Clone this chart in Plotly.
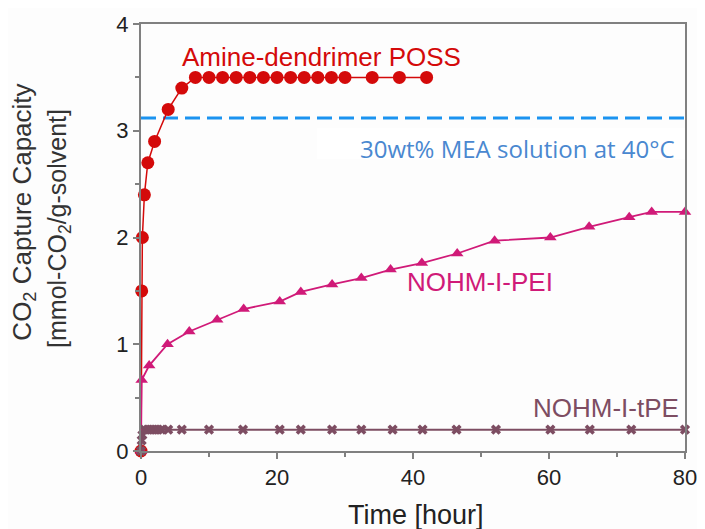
import plotly.graph_objects as go

# --- data ---
poss_time = [0, 0.1, 0.2, 0.5, 1, 2, 4, 6, 8, 10, 12, 14, 16, 18, 20, 22, 24, 26, 28, 30, 34, 38, 42]
poss_cap = [0, 1.5, 2.0, 2.4, 2.7, 2.9, 3.2, 3.4, 3.5, 3.5, 3.5, 3.5, 3.5, 3.5, 3.5, 3.5, 3.5, 3.5, 3.5, 3.5, 3.5, 3.5, 3.5]

pei_time = [0, 0.1, 1.2, 3.9, 7.1, 11.2, 15.1, 20.4, 23.5, 28.1, 32.4, 36.7, 41.3, 46.5, 52.0, 60.2, 65.9, 71.8, 75.1, 80]
pei_cap = [0, 0.665, 0.80, 1.00, 1.12, 1.23, 1.33, 1.40, 1.49, 1.56, 1.62, 1.70, 1.76, 1.85, 1.97, 2.00, 2.10, 2.19, 2.24, 2.24]

tpe_time = [0, 0.1, 0.2, 0.5, 1, 1.5, 2, 2.5, 3, 4, 6, 10, 15, 20.4, 23.5, 28.1, 32.4, 37, 41.4, 46.4, 52.2, 60.2, 66, 72.1, 80]
tpe_cap = [0, 0.1, 0.15, 0.2, 0.2, 0.2, 0.2, 0.2, 0.2, 0.2, 0.2, 0.2, 0.2, 0.2, 0.2, 0.2, 0.2, 0.2, 0.2, 0.2, 0.2, 0.2, 0.2, 0.2, 0.2]

mea_time = [0, 80]
mea_cap = [3.12, 3.12]

x_ticks = [0, 20, 40, 60, 80]
y_ticks = [0, 1, 2, 3, 4]

RED = "#d40a0a"
MAG = "#d01a78"
MAUVE = "#7d4d62"
BLUE = "#1b93f0"
FONT = "Liberation Sans, Arial, sans-serif"

fig = go.Figure()
fig.add_trace(go.Scatter(x=mea_time, y=mea_cap, mode="lines",
                         line=dict(color=BLUE, width=3, dash="15px,7px"),
                         cliponaxis=False, showlegend=False))
fig.add_trace(go.Scatter(x=poss_time, y=poss_cap, mode="lines+markers",
                         line=dict(color=RED, width=1.5),
                         marker=dict(symbol="circle", size=13, color=RED),
                         cliponaxis=False, showlegend=False))
fig.add_trace(go.Scatter(x=pei_time, y=pei_cap, mode="lines+markers",
                         line=dict(color=MAG, width=1.8),
                         marker=dict(symbol="triangle-up", size=11, color=MAG),
                         cliponaxis=False, showlegend=False))
fig.add_trace(go.Scatter(x=tpe_time, y=tpe_cap, mode="lines+markers",
                         line=dict(color=MAUVE, width=2),
                         marker=dict(symbol="x", size=9, color=MAUVE),
                         cliponaxis=False, showlegend=False))

axis_common = dict(showgrid=False, zeroline=False, showline=True, linecolor="#808080",
                   linewidth=2, mirror=True, ticks="outside", ticklen=6, tickwidth=1.5,
                   tickcolor="#808080", automargin=False, ticklabeloverflow="allow",
                   tickfont=dict(family=FONT, size=22, color="#222222"))

fig.update_xaxes(range=[0, 80], tickvals=x_ticks, ticktext=[str(v) for v in x_ticks],
                 minor=dict(dtick=10, ticks="outside", ticklen=4, tickcolor="#808080"),
                 **axis_common)
fig.update_yaxes(range=[0, 4], tickvals=y_ticks, ticktext=[str(v) for v in y_ticks],
                 minor=dict(dtick=0.5, ticks="outside", ticklen=4, tickcolor="#808080"),
                 **axis_common)

# white box behind the MEA label
fig.add_shape(type="rect", xref="x", yref="y", x0=25.9, x1=80, y0=2.735, y1=3.026,
              fillcolor="#ffffff", line=dict(width=0), layer="below")

def ann(x, y, text, size, color, ref="x", family=FONT, angle=0):
    return dict(x=x, y=y, xref="x" if ref == "x" else "paper", yref="y" if ref == "x" else "paper",
                text=text, textangle=angle, showarrow=False, xanchor="center", yanchor="middle",
                font=dict(family=family, size=size, color=color))

annotations = [
    ann(26.6, 3.69, "Amine-dendrimer POSS", 26, RED),
    ann(49.8, 1.586, "NOHM-I-PEI", 26, MAG),
    ann(68.4, 0.40, "NOHM-I-tPE", 26, MAUVE),
    ann(55.3, 2.83, "30wt% MEA solution at 40°C", 24, "#4a88d0", family="Open Sans, sans-serif"),
    ann(-0.2155, 0.56, "CO<sub>2</sub> Capture Capacity", 26, "#333333", ref="paper", angle=-90),
    ann(-0.151, 0.522, "[mmol-CO<sub>2</sub>/g-solvent]", 25, "#333333", ref="paper", angle=-90),
    ann(0.505, -0.15, "Time [hour]", 27, "#222222", ref="paper"),
]

# page body adds an 8px offset; compensate so the plot lands where the reference has it
fig.update_layout(width=689, height=521,
                  margin=dict(l=133, r=12, t=16, b=78, autoexpand=False),
                  paper_bgcolor="#fdfdfd", plot_bgcolor="#fdfdfd",
                  annotations=annotations, showlegend=False)

fig.write_html("out.html")
